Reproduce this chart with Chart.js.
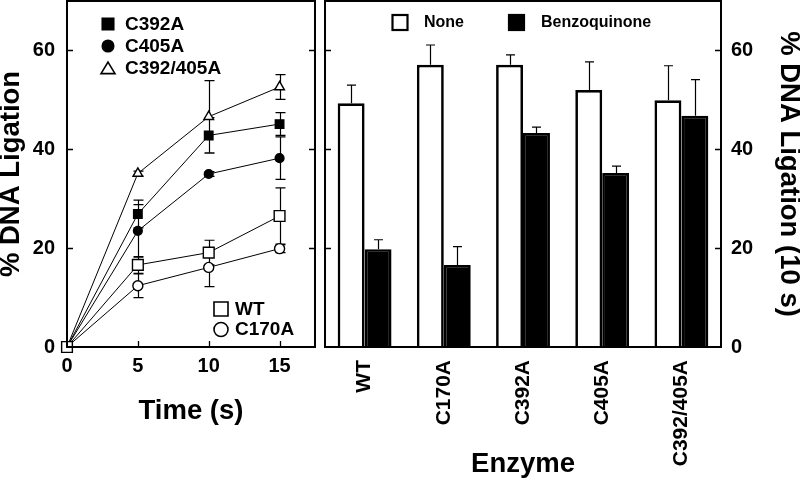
<!DOCTYPE html>
<html><head><meta charset="utf-8">
<script src="https://cdn.jsdelivr.net/npm/chart.js@4.4.1/dist/chart.umd.min.js"></script>
<style>
html,body{margin:0;padding:0;background:#fff;width:800px;height:481px;overflow:hidden}
#l{position:absolute;left:0;top:0}
#r{position:absolute;left:317px;top:0}
</style></head><body>
<canvas id="l" width="320" height="481"></canvas>
<canvas id="r" width="483" height="481"></canvas>
<script>
// ---- Left panel: time course ----
const times = [0, 5, 10, 15];
const wtVals = [0, 16.6, 19.1, 26.5];
const wtErr = [0, 1.7, 2.5, 5.7];
const c170aVals = [0, 12.4, 16.1, 19.9];
const c170aErr = [0, 2.4, 3.9, 0.8];
const c392aVals = [0, 26.9, 42.8, 45.1];
const c392aErr = [0, 2.8, 3.6, 2.3];
const c405aVals = [0, 23.5, 35.0, 38.2];
const c405aErr = [0, 5.3, 0.5, 4.3];
const c392405aVals = [0, 35.1, 46.6, 52.6];
const c392405aErr = [0, 0.5, 7.3, 2.5];
const timeTicks = [0, 5, 10, 15];
const ligationTicks = [0, 20, 40, 60];

// ---- Right panel: bar chart at 10 s ----
const enzymes = ['WT', 'C170A', 'C392A', 'C405A', 'C392/405A'];
const noneVals = [49.3, 57.1, 57.1, 52.0, 49.9];
const noneErr = [3.7, 4.0, 2.0, 5.7, 7.0];
const benzoVals = [19.8, 16.6, 43.3, 35.2, 46.8];
const benzoErr = [1.9, 3.7, 1.2, 1.4, 7.3];

const FONT = '"Liberation Sans", Arial, Helvetica, sans-serif';
const BLACK = '#000';

function pts(vals) { return times.map((t, i) => ({x: t, y: vals[i]})); }
function noPad(s) { s.paddingTop = 0; s.paddingBottom = 0; s.paddingLeft = 0; s.paddingRight = 0; }

function drawMarker(ctx, style, x, y, size, fill) {
  ctx.save();
  ctx.lineWidth = 1.6;
  ctx.strokeStyle = BLACK;
  ctx.fillStyle = fill;
  ctx.beginPath();
  const h = size / 2;
  if (style === 'rect') ctx.rect(x - h, y - h, size, size);
  else if (style === 'circle') ctx.arc(x, y, h, 0, Math.PI * 2);
  else { ctx.moveTo(x, y - h * 0.85); ctx.lineTo(x + h, y + h * 0.8); ctx.lineTo(x - h, y + h * 0.8); ctx.closePath(); }
  ctx.fill(); ctx.stroke();
  ctx.restore();
}

const frameTicks = {
  id: 'frameTicks',
  afterDraw(chart, args, o) {
    const {ctx, chartArea: a} = chart;
    const ys = chart.scales.y;
    ctx.save();
    ctx.strokeStyle = BLACK;
    ctx.lineWidth = 1.3;
    ctx.beginPath();
    for (const v of ligationTicks) {
      if (v === 0) continue;
      const p = Math.round(ys.getPixelForValue(v)) + 0.5;
      ctx.moveTo(a.left, p); ctx.lineTo(a.left + 6, p);
      ctx.moveTo(a.right, p); ctx.lineTo(a.right - 6, p);
    }
    if (o.xTicks) {
      const xs = chart.scales.x;
      for (const v of timeTicks) {
        if (v === 0) continue;
        const p = Math.round(xs.getPixelForValue(v)) + 0.5;
        ctx.moveTo(p, a.bottom); ctx.lineTo(p, a.bottom - 6);
      }
    }
    ctx.stroke();
    ctx.lineWidth = 2;
    ctx.strokeRect(a.left, a.top, a.right - a.left, a.bottom - a.top);
    ctx.restore();
  }
};

const lineErrors = {
  id: 'lineErrors',
  beforeDatasetsDraw(chart) {
    const {ctx} = chart;
    const xs = chart.scales.x, ys = chart.scales.y;
    ctx.save();
    ctx.strokeStyle = BLACK;
    ctx.lineWidth = 1.2;
    ctx.beginPath();
    chart.data.datasets.forEach(ds => {
      ds.errors.forEach((e, i) => {
        if (!e) return;
        const x = Math.round(xs.getPixelForValue(ds.data[i].x)) + 0.5;
        const t = ys.getPixelForValue(ds.data[i].y + e);
        const b = ys.getPixelForValue(ds.data[i].y - e);
        ctx.moveTo(x, t); ctx.lineTo(x, b);
        ctx.moveTo(x - 5, t); ctx.lineTo(x + 5, t);
        ctx.moveTo(x - 5, b); ctx.lineTo(x + 5, b);
      });
    });
    ctx.stroke();
    ctx.restore();
  },
  afterDraw(chart) {
    const {ctx} = chart;
    const items1 = [['rect', 'C392A', BLACK, 11.5, 24], ['circle', 'C405A', BLACK, 11.5, 46], ['tri', 'C392/405A', '#fff', 14, 68]];
    const items2 = [['rect', 'WT', '#fff', 14, 309], ['circle', 'C170A', '#fff', 14, 329.5]];
    ctx.save();
    ctx.font = 'bold 19px ' + FONT;
    ctx.fillStyle = BLACK;
    ctx.textBaseline = 'middle';
    ctx.textAlign = 'left';
    for (const [s, t, f, sz, y] of items1) {
      drawMarker(ctx, s, 108, y, sz, f);
      ctx.fillStyle = BLACK;
      ctx.fillText(t, 125, y + 0.5);
    }
    for (const [s, t, f, sz, y] of items2) {
      drawMarker(ctx, s, 221, y, sz, f);
      ctx.fillStyle = BLACK;
      ctx.fillText(t, 235, y + 0.5);
    }
    ctx.restore();
  }
};

const barErrors = {
  id: 'barErrors',
  afterDatasetsDraw(chart) {
    const {ctx} = chart;
    const ys = chart.scales.y;
    ctx.save();
    ctx.strokeStyle = BLACK;
    ctx.lineWidth = 1.2;
    ctx.beginPath();
    chart.data.datasets.forEach((ds, di) => {
      const meta = chart.getDatasetMeta(di);
      ds.errors.forEach((e, i) => {
        const bar = meta.data[i];
        const x = Math.round(bar.x) + 0.5;
        const t = ys.getPixelForValue(ds.data[i] + e);
        ctx.moveTo(x, bar.y); ctx.lineTo(x, t);
        ctx.moveTo(x - 4.5, t); ctx.lineTo(x + 4.5, t);
      });
    });
    ctx.stroke();
    ctx.restore();
  },
  afterDraw(chart) {
    const {ctx} = chart;
    ctx.save();
    ctx.font = 'bold 16px ' + FONT;
    ctx.textBaseline = 'middle';
    ctx.textAlign = 'left';
    const items = [['None', '#fff', 400 - 317, 424 - 317], ['Benzoquinone', BLACK, 516.5 - 317, 541 - 317]];
    for (const [t, f, mx, tx] of items) {
      ctx.lineWidth = 2.2;
      ctx.strokeStyle = BLACK;
      ctx.fillStyle = f;
      ctx.fillRect(mx - 7.5, 15, 15, 15);
      ctx.strokeRect(mx - 7.5, 15, 15, 15);
      ctx.fillStyle = BLACK;
      ctx.fillText(t, tx, 22.5);
    }
    ctx.restore();
  }
};

const tickFont = {family: FONT, size: 20, weight: 'bold'};
const titleFont = {family: FONT, size: 27.5, weight: 'bold', lineHeight: 1};

function lineDs(label, vals, errs, style, radius, fill) {
  return {
    label, data: pts(vals), errors: errs,
    borderColor: BLACK, borderWidth: 1, tension: 0, clip: false,
    pointStyle: style, pointRadius: radius, pointHoverRadius: radius,
    pointBackgroundColor: fill, pointBorderColor: BLACK, pointBorderWidth: 1.4
  };
}

new Chart(document.getElementById('l'), {
  type: 'line',
  data: {
    datasets: [
      lineDs('WT', wtVals, wtErr, 'rect', 7.6, '#fff'),
      lineDs('C170A', c170aVals, c170aErr, 'circle', 5, '#fff'),
      lineDs('C392A', c392aVals, c392aErr, 'rect', 6, BLACK),
      lineDs('C405A', c405aVals, c405aErr, 'circle', 4.4, BLACK),
      lineDs('C392/405A', c392405aVals, c392405aErr, 'triangle', 5.6, '#fff')
    ]
  },
  options: {
    responsive: false, animation: false, devicePixelRatio: 1,
    layout: {autoPadding: false, padding: {top: 1, right: 5, left: 0, bottom: 0}},
    plugins: {legend: {display: false}, tooltip: {enabled: false}, frameTicks: {xTicks: true}},
    scales: {
      x: {
        type: 'linear', min: 0, max: 17.5,
        grid: {display: false, drawTicks: false}, border: {display: false},
        afterBuildTicks: s => { s.ticks = timeTicks.map(v => ({value: v})); },
        afterFit: s => { s.height = 134; noPad(s); },
        ticks: {font: tickFont, color: BLACK, padding: 7, maxRotation: 0, autoSkip: false},
        title: {display: true, text: 'Time (s)', font: titleFont, color: BLACK, padding: {top: 0, bottom: 56}}
      },
      y: {
        min: 0, max: 70,
        grid: {display: false, drawTicks: false}, border: {display: false},
        afterBuildTicks: s => { s.ticks = ligationTicks.map(v => ({value: v})); },
        afterFit: s => { s.width = 67; noPad(s); },
        ticks: {font: tickFont, color: BLACK, padding: 12, autoSkip: false},
        title: {display: true, text: '% DNA Ligation', font: titleFont, color: BLACK, padding: {top: -2, bottom: 0}}
      }
    }
  },
  plugins: [lineErrors, frameTicks]
});

new Chart(document.getElementById('r'), {
  type: 'bar',
  data: {
    labels: enzymes,
    datasets: [
      {label: 'None', data: noneVals, errors: noneErr, backgroundColor: '#fff', borderColor: BLACK, borderWidth: 2.7,
       categoryPercentage: 0.68, barPercentage: 1.0},
      {label: 'Benzoquinone', data: benzoVals, errors: benzoErr, backgroundColor: BLACK, borderColor: BLACK, borderWidth: 2.7,
       categoryPercentage: 0.68, barPercentage: 1.0}
    ]
  },
  options: {
    responsive: false, animation: false, devicePixelRatio: 1,
    layout: {autoPadding: false, padding: {top: 1, right: 0, left: 8, bottom: 0}},
    plugins: {legend: {display: false}, tooltip: {enabled: false}, frameTicks: {xTicks: false}},
    scales: {
      x: {
        grid: {display: false, drawTicks: false}, border: {display: false},
        afterFit: s => { s.height = 134; noPad(s); },
        ticks: {font: {family: FONT, size: 21, weight: 'bold'}, color: BLACK, padding: 13, minRotation: 90, maxRotation: 90, autoSkip: false},
        title: {display: true, text: 'Enzyme', font: titleFont, color: BLACK, padding: {top: 0, bottom: 2.5}}
      },
      y: {
        position: 'right', min: 0, max: 70,
        grid: {display: false, drawTicks: false}, border: {display: false},
        afterBuildTicks: s => { s.ticks = ligationTicks.map(v => ({value: v})); },
        afterFit: s => { s.width = 79; noPad(s); },
        ticks: {font: tickFont, color: BLACK, padding: 10, autoSkip: false},
        title: {display: true, text: '% DNA Ligation (10 s)', font: titleFont, color: BLACK, padding: {top: -2.5, bottom: 0}}
      }
    }
  },
  plugins: [barErrors, frameTicks]
});
</script>
</body></html>
